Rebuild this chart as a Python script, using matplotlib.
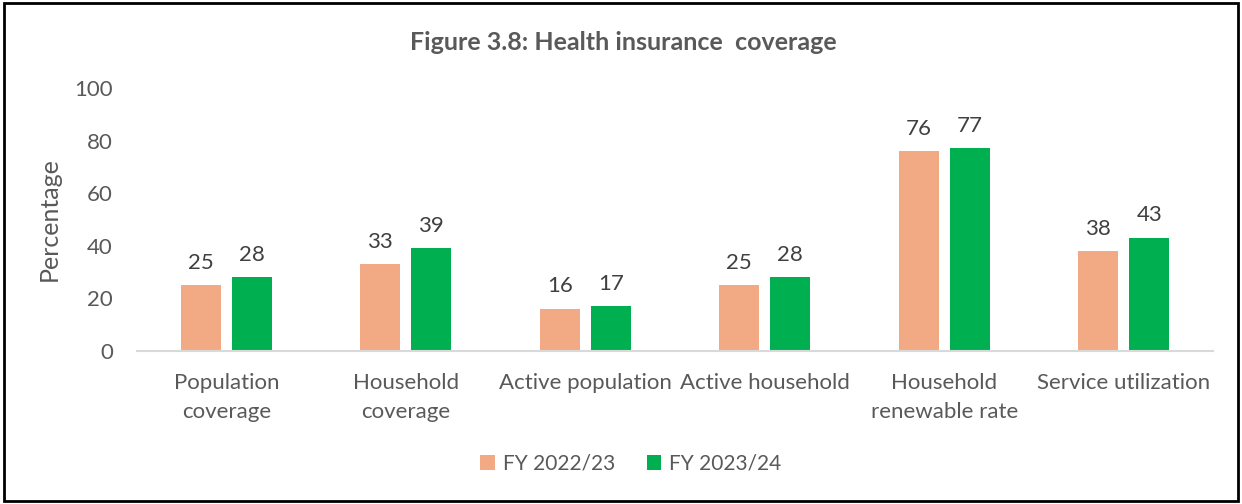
import matplotlib
matplotlib.use('Agg')
import matplotlib.pyplot as plt
from matplotlib.patches import Rectangle
import numpy as np

plt.rcParams['font.family'] = ['Lato', 'DejaVu Sans']

categories = ['Population\ncoverage', 'Household\ncoverage', 'Active population',
              'Active household', 'Household\nrenewable rate', 'Service utilization']
fy_2223 = [25, 33, 16, 25, 76, 38]
fy_2324 = [28, 39, 17, 28, 77, 43]
series_names = ['FY 2022/23', 'FY 2023/24']

orange = '#F2AA84'
green = '#00B050'
text_col = '#595959'

fig = plt.figure(figsize=(12.42, 5.04), dpi=100)
ax = fig.add_axes([0.110, 0.3036, 0.867, 0.5218])

x = np.arange(len(categories))
w = 0.223
off = 0.142
b1 = ax.bar(x - off, fy_2223, w, color=orange, label=series_names[0])
b2 = ax.bar(x + off, fy_2324, w, color=green, label=series_names[1])

for bars, vals in ((b1, fy_2223), (b2, fy_2324)):
    for rect, v in zip(bars, vals):
        ax.annotate(str(v), (rect.get_x() + rect.get_width() / 2, v),
                    xytext=(0, 9), textcoords='offset points',
                    ha='center', va='bottom', fontsize=16, color='#404040')

ax.set_xlim(-0.5, len(categories) - 0.5)
ax.set_ylim(0, 100)
ax.set_yticks(range(0, 101, 20))
ax.set_xticks(x)
ax.set_xticklabels(categories, fontsize=16, color=text_col, linespacing=1.55)
ax.tick_params(axis='y', labelsize=16, labelcolor=text_col, length=0, pad=17)
ax.tick_params(axis='x', length=0, pad=16)
for s in ('top', 'right', 'left'):
    ax.spines[s].set_visible(False)
ax.spines['bottom'].set_color('#D9D9D9')
ax.spines['bottom'].set_linewidth(1.5)

ax.set_ylabel('Percentage', fontsize=18, color=text_col, labelpad=10)

fig.text(0.502, 0.915, 'Figure 3.8: Health insurance  coverage', ha='center', va='center',
         fontsize=18, fontweight='bold', color=text_col)

fig.legend(loc='center', bbox_to_anchor=(0.508, 0.08), ncol=2, frameon=False,
           fontsize=15, labelcolor=text_col, handlelength=0.7, handleheight=0.7,
           handletextpad=0.4, columnspacing=1.5)

fig.patches.append(Rectangle((0.003, 0.005), 0.994, 0.99, transform=fig.transFigure,
                             fill=False, edgecolor='black', linewidth=2))

fig.savefig('out.png', dpi=100)
